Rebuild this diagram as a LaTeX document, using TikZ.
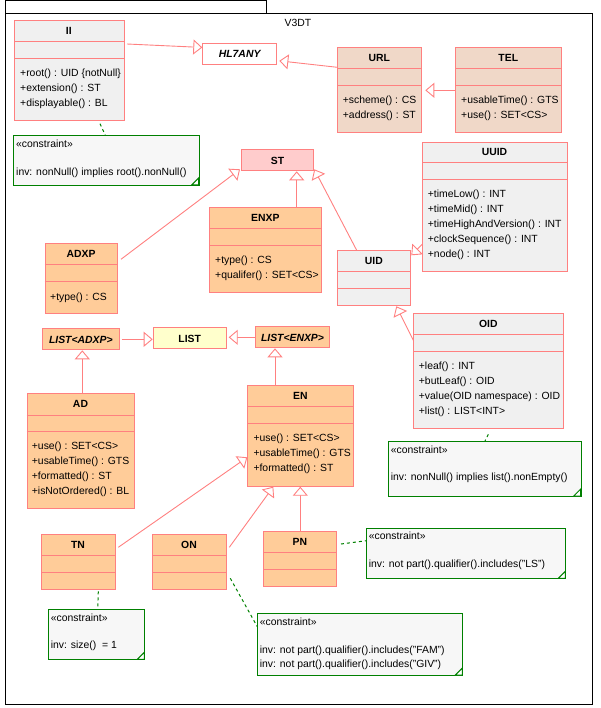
\documentclass[tikz,border=0pt]{standalone}
\usepackage{fontspec}
\setmainfont{Liberation Sans}
\usetikzlibrary{calc,arrows.meta}
\definecolor{clsred}{RGB}{255,128,128}
\definecolor{greyfill}{RGB}{240,240,240}
\definecolor{tanfill}{RGB}{240,216,200}
\definecolor{orangefill}{RGB}{255,204,153}
\definecolor{pinkfill}{RGB}{255,204,204}
\definecolor{yellowfill}{RGB}{255,255,204}
\definecolor{notegreen}{RGB}{0,128,0}
\definecolor{notefill}{RGB}{247,247,247}
\tikzset{
  cls/.style={draw=clsred, line width=1pt, inner sep=0pt, anchor=north west},
  sepline/.style={draw=clsred, line width=1pt},
  gen/.style={draw=clsred, line width=0.9pt, -{Triangle[open, length=9pt, width=15pt, fill=white]}},
  optext/.style={anchor=west, inner sep=0pt, text height=7.5pt, text depth=0pt, font=\fontsize{10.4}{12}\selectfont},
  titletext/.style={inner sep=0pt, text height=7.5pt, text depth=0pt, font=\fontsize{10.4}{12}\selectfont\bfseries},
  note/.style={draw=notegreen, fill=notefill, line width=1pt, inner sep=0pt, anchor=north west},
  notelink/.style={draw=notegreen, line width=1pt, dash pattern=on 3pt off 3pt},
}
% class box: name, x1, y1, x2, y2, sep1, sep2, fill, title
\newcommand\umlclass[9]{%
  \node[cls, fill=#8, minimum width={#4-#2}, minimum height={#5-#3}] (#1) at (#2,#3) {};
  \draw[sepline] (#2,#6) -- (#4,#6) (#2,#7) -- (#4,#7);
  \node[titletext] (#1-t) at ({(#2+#4)/2},{(#3+#6)/2}) {#9};
}
% operations: name, x, first y, list
\newcommand\umlops[4]{%
  \foreach \op [count=\i] in {#4} {\node[optext] (#1-a\i) at (#2,{#3+(\i-1)*15}) {\op};}
}
% simple one-compartment box: name, x1, y1, x2, y2, fill, text
\newcommand\umlsimple[7]{%
  \node[cls, fill=#6, minimum width={#4-#2}, minimum height={#5-#3}, text height=7.5pt, text depth=0pt, font=\fontsize{10.4}{12}\selectfont\bfseries] (#1) at (#2,#3) {#7};
}
% note: name, x1, y1, x2, y2
\newcommand\umlnote[5]{%
  \node[note, minimum width={#4-#2}, minimum height={#5-#3}] (#1) at (#2,#3) {};
  \filldraw[draw=notegreen, fill=white, line width=1pt] ({#4-7},#5) -- (#4,{#5-7}) -- (#4,#5) -- cycle;
}
\begin{document}
\begin{tikzpicture}[x=1pt,y=-1pt]
\useasboundingbox (0,0) rectangle (600,708);
% package frame
\draw[line width=1pt] (5.3,0.7) rectangle (266.7,13.3);
\draw[line width=1pt] (5.3,13.3) rectangle (592.3,704.3);
\node[optext, anchor=center] (pkg) at (298,23) {V3DT};

% classes
\umlclass{II}{14}{20.3}{123.7}{120.3}{41.7}{58.7}{greyfill}{II}
\umlops{II}{20}{72.7}{+root() : UID \{notNull\}, +extension() : ST, +displayable() : BL}

\umlsimple{HL7ANY}{202.3}{43.3}{276}{64}{white}{\itshape HL7ANY}

\umlclass{URL}{337.3}{47.3}{421.3}{132.3}{68.3}{85.3}{tanfill}{URL}
\umlops{URL}{342.7}{100}{+scheme() : CS, +address() : ST}

\umlclass{TEL}{455.3}{47.3}{561.3}{132.3}{68.3}{85.3}{tanfill}{TEL}
\umlops{TEL}{461}{100}{+usableTime() : GTS, +use() : SET<CS>}

\umlclass{UUID}{422.3}{141.7}{566.7}{271.3}{162.3}{180}{greyfill}{UUID}
\umlops{UUID}{427.7}{194}{+timeLow() : INT, +timeMid() : INT, +timeHighAndVersion() : INT, +clockSequence() : INT, +node() : INT}

\umlsimple{ST}{240.7}{149.3}{313.3}{170.3}{pinkfill}{ST}

\umlclass{ENXP}{209.3}{207.3}{321.3}{292.3}{228.3}{246}{orangefill}{ENXP}
\umlops{ENXP}{215}{260}{+type() : CS, +qualifer() : SET<CS>}

\umlclass{ADXP}{44.7}{243.3}{117.3}{313.3}{264.3}{281.7}{orangefill}{ADXP}
\umlops{ADXP}{50}{296.7}{+type() : CS}

\umlclass{UID}{337.3}{250.3}{410.3}{305.3}{271.3}{288.7}{greyfill}{UID}

\umlclass{OID}{413.3}{313.3}{563.3}{428.3}{334.3}{351.7}{greyfill}{OID}
\umlops{OID}{418.7}{366}{+leaf() : INT, +butLeaf() : OID, +value(OID namespace) : OID, +list() : LIST<INT>}

\umlsimple{LADXP}{42}{328.3}{118.7}{349.3}{orangefill}{\itshape LIST<ADXP>}
\umlsimple{LIST}{152.7}{327.3}{225.7}{348.3}{yellowfill}{LIST}
\umlsimple{LENXP}{254.7}{326.3}{329.3}{347.3}{orangefill}{\itshape LIST<ENXP>}

\umlclass{AD}{26.7}{393.3}{134.3}{508.3}{415}{431.7}{orangefill}{AD}
\umlops{AD}{31.7}{446}{+use() : SET<CS>, +usableTime() : GTS, +formatted() : ST, +isNotOrdered() : BL}

\umlclass{EN}{247.3}{385.3}{353.3}{485.7}{406.7}{423.7}{orangefill}{EN}
\umlops{EN}{253.3}{437.7}{+use() : SET<CS>, +usableTime() : GTS, +formatted() : ST}

\umlclass{TN}{41.3}{534.3}{114.7}{589.3}{555.3}{572.3}{orangefill}{TN}
\umlclass{ON}{152.3}{534.3}{225.7}{589.3}{555.3}{572.3}{orangefill}{ON}
\umlclass{PN}{263.3}{531.3}{336.3}{586.3}{552.3}{569.3}{orangefill}{PN}

% notes
\umlnote{IInote}{13.3}{135.3}{198.7}{185}
\node[optext] (IInote-s) at (16,144) {«constraint»};
\node[optext] (IInote-i) at (16,171.7) {inv: nonNull() implies root().nonNull()};

\umlnote{OIDnote}{388.3}{441}{580.7}{496}
\node[optext] (OIDnote-s) at (390.7,449.3) {«constraint»};
\node[optext] (OIDnote-i) at (390.7,476.7) {inv: nonNull() implies list().nonEmpty()};

\umlnote{TNnote}{48.3}{609}{144.3}{659.3}
\node[optext] (TNnote-s) at (50.7,617.7) {«constraint»};
\node[optext] (TNnote-i) at (50.7,645) {inv: size()\ \ = 1};

\umlnote{ONnote}{257.3}{613.3}{462.3}{675}
\node[optext] (ONnote-s) at (259.7,621.7) {«constraint»};
\node[optext] (ONnote-i) at (259.7,649.3) {inv: not part().qualifier().includes("FAM")};
\node[optext] (ONnote-j) at (259.7,663.3) {inv: not part().qualifier().includes("GIV")};

\umlnote{PNnote}{366.3}{528.3}{565.3}{578.3}
\node[optext] (PNnote-s) at (368.7,536) {«constraint»};
\node[optext] (PNnote-i) at (368.7,564) {inv: not part().qualifier().includes("LS")};

% note links
\draw[notelink] ($(II.south west)+(86,2.4)$) -- ($(IInote.north west)+(92,0)$);
\draw[notelink] ($(OID.south west)+(75,5)$) -- ($(OIDnote.north west)+(96.7,0)$);
\draw[notelink] ($(TN.south west)+(57,1)$) -- ($(TNnote.north west)+(49.4,0)$);
\draw[notelink] ($(ON.north east)+(3.6,44)$) -- ($(ONnote.north west)+(0,13.4)$);
\draw[notelink] ($(PN.north east)+(3.7,12.7)$) -- ($(PNnote.north west)+(0,12.4)$);

% generalizations
\draw[gen] ($(II.north east)+(2.3,23.7)$) -- ($(HL7ANY.west)+(0,-6.7)$);
\draw[gen] ($(URL.north west)+(0,20)$) -- ($(HL7ANY.east)+(2.3,6.7)$);
\draw[gen] (TEL.west) -- ($(URL.east)+(3,0)$);
\draw[gen] ($(ENXP.north west)+(87.4,0)$) coordinate (enx) -- (enx |- ST.south);
\draw[gen] ($(ADXP.north east)+(2.7,16)$) -- ($(ST.south west)+(-0.7,-2)$);
\draw[gen] ($(UID.north west)+(19.4,0)$) -- ($(ST.south east)+(0,-2)$);
\draw[gen] ($(UUID.south west)+(0,-28)$) -- ($(UID.north east)+(0,5)$);
\draw[gen] ($(OID.north west)+(0,27)$) -- ($(UID.south east)+(-15,0)$);
\draw[gen] ($(LADXP.east)+(2,0)$) -- (LADXP.east -| LIST.west);
\draw[gen] (LENXP.west) -- ($(LENXP.west -| LIST.east)+(2,0)$);
\draw[gen] ($(AD.north west)+(55.6,0)$) coordinate (adt) -- (adt |- LADXP.south);
\draw[gen] ($(EN.north west)+(27.7,0)$) coordinate (ent) -- (ent |- LENXP.south);
\draw[gen] (PN.north) -- (PN.north |- EN.south);
\draw[gen] ($(TN.north east)+(2.6,13)$) -- ($(EN.north west)+(0,72)$);
\draw[gen] ($(ON.north east)+(2.6,13)$) -- ($(EN.south west)+(26,0)$);
\end{tikzpicture}
\end{document}
